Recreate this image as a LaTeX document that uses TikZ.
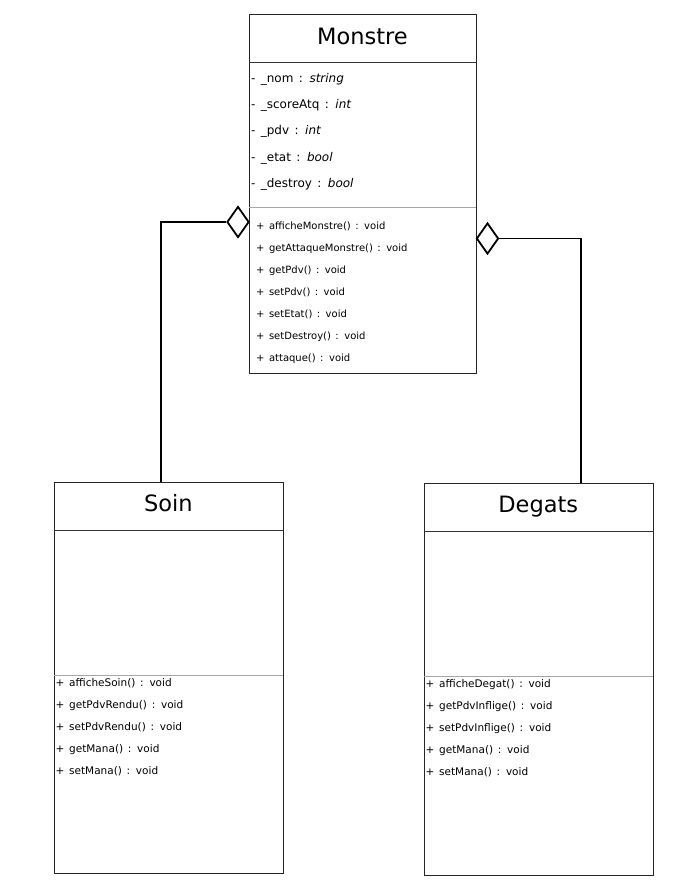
\documentclass[tikz,border=0pt]{standalone}
\usepackage{fontspec}
\setmainfont{DejaVu Sans}
\newfontfamily\memberfont[WordSpace=1.4]{DejaVu Sans}
\usetikzlibrary{shapes.geometric}

\tikzset{
  classbox/.style={draw=black!85, line width=0.9pt, rectangle, inner sep=0pt, anchor=north west},
  titlesep/.style={draw=black!80, line width=0.9pt},
  membersep/.style={draw=black!35, line width=0.8pt},
  title/.style={anchor=base, inner sep=0pt, font=\fontsize{22.5}{26}\selectfont},
  attr/.style={anchor=base west, inner sep=0pt, font=\memberfont\fontsize{12}{14}\selectfont},
  meth/.style={anchor=base west, inner sep=0pt, font=\memberfont\fontsize{10}{12}\selectfont},
  smeth/.style={anchor=base west, inner sep=0pt, font=\memberfont\fontsize{10.5}{12}\selectfont},
  aggr/.style={draw=black, line width=1.8pt, diamond, inner sep=0pt, fill=white},
  link/.style={draw=black, line width=1.8pt}
}

\begin{document}
\begin{tikzpicture}[x=1pt, y=-1pt]
\useasboundingbox (0,0) rectangle (692,888);

% ---- Monstre ----
\node[classbox, minimum width=227pt, minimum height=359pt] (monstre) at (249,14) {};
\draw[titlesep] (249,62) -- (476,62);
\draw[membersep] (249,207) -- (476,207);
\node[title] (tmonstre) at (362.5,44.3) {Monstre};
\node[attr] (a1) at (251,82.5) {- \_nom : \textit{string}};
\node[attr] (a2) at (251,108.5) {- \_scoreAtq : \textit{int}};
\node[attr] (a3) at (251,134.5) {- \_pdv : \textit{int}};
\node[attr] (a4) at (251,161) {- \_etat : \textit{bool}};
\node[attr] (a5) at (251,187) {- \_destroy : \textit{bool}};
\node[meth] (m1) at (256,229.5) {+ afficheMonstre() : void};
\node[meth] (m2) at (256,251.5) {+ getAttaqueMonstre() : void};
\node[meth] (m3) at (256,273.5) {+ getPdv() : void};
\node[meth] (m4) at (256,295.5) {+ setPdv() : void};
\node[meth] (m5) at (256,317.5) {+ setEtat() : void};
\node[meth] (m6) at (256,339.5) {+ setDestroy() : void};
\node[meth] (m7) at (256,361.5) {+ attaque() : void};

% ---- Soin ----
\node[classbox, minimum width=228.5pt, minimum height=391pt] (soin) at (54,482) {};
\draw[titlesep] (54,530) -- (282.5,530);
\draw[membersep] (54,675) -- (282.5,675);
\node[title] (tsoin) at (168.3,511) {Soin};
\node[smeth] (s1) at (55.5,686) {+ afficheSoin() : void};
\node[smeth] (s2) at (55.5,708) {+ getPdvRendu() : void};
\node[smeth] (s3) at (55.5,730) {+ setPdvRendu() : void};
\node[smeth] (s4) at (55.5,752) {+ getMana() : void};
\node[smeth] (s5) at (55.5,774) {+ setMana() : void};

% ---- Degats ----
\node[classbox, minimum width=228.5pt, minimum height=392pt] (degats) at (424,483) {};
\draw[titlesep] (424,531) -- (652.5,531);
\draw[membersep] (424,676.5) -- (652.5,676.5);
\node[title] (tdegats) at (538.3,512.3) {Degats};
\node[smeth] (d1) at (425.5,687) {+ afficheDegat() : void};
\node[smeth] (d2) at (425.5,709) {+ getPdvInflige() : void};
\node[smeth] (d3) at (425.5,731) {+ setPdvInflige() : void};
\node[smeth] (d4) at (425.5,753) {+ getMana() : void};
\node[smeth] (d5) at (425.5,775) {+ setMana() : void};

% ---- aggregations ----
\node[aggr, minimum width=22pt, minimum height=31pt] (dsoin) at (238,222) {};
\node[aggr, minimum width=22pt, minimum height=31pt] (ddegats) at (487.5,238.5) {};
\coordinate (soinend) at (161,482);
\coordinate (degatsend) at (581,483);
\draw[link] (dsoin.west) -| (soinend);
\draw[link] (ddegats.east) -| (degatsend);
\end{tikzpicture}
\end{document}
